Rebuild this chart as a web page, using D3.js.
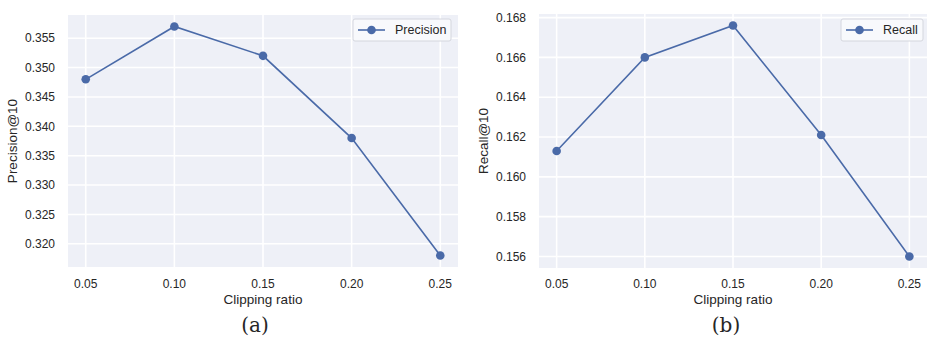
<!DOCTYPE html>
<html>
<head>
<meta charset="utf-8">
<script src="https://cdn.jsdelivr.net/npm/d3@7"></script>
<style>
  body { margin: 0; background: #ffffff; }
  svg { display: block; }
  text { font-family: "Liberation Sans", Arial, sans-serif; fill: #262626; }
</style>
</head>
<body>
<svg id="chart" width="929" height="339"></svg>
<script>
// ---- data ----
const clippingRatios = [0.05, 0.10, 0.15, 0.20, 0.25];
const precisionValues = [0.348, 0.357, 0.352, 0.338, 0.318];
const recallValues = [0.1613, 0.1660, 0.1676, 0.1621, 0.1560];
const xTickLabels = ["0.05", "0.10", "0.15", "0.20", "0.25"];
const precisionTicks = [0.320, 0.325, 0.330, 0.335, 0.340, 0.345, 0.350, 0.355];
const recallTicks = [0.156, 0.158, 0.160, 0.162, 0.164, 0.166, 0.168];

const svg = d3.select("#chart");
const lineColor = "#4a6aa8";
const bgColor = "#eef0f7";

function drawPanel(cfg) {
  const g = svg.append("g");
  const x = d3.scaleLinear().domain([0.04, 0.26]).range([cfg.left, cfg.right]);
  const y = d3.scaleLinear().domain(cfg.yDomain).range([cfg.bottom, cfg.top]);

  g.append("rect")
    .attr("x", cfg.left).attr("y", cfg.top)
    .attr("width", cfg.right - cfg.left).attr("height", cfg.bottom - cfg.top)
    .attr("fill", bgColor);

  // grid
  g.selectAll(".gx").data(clippingRatios).enter().append("line")
    .attr("x1", d => x(d)).attr("x2", d => x(d))
    .attr("y1", cfg.top).attr("y2", cfg.bottom)
    .attr("stroke", "#ffffff").attr("stroke-width", 1.6);
  g.selectAll(".gy").data(cfg.yTicks).enter().append("line")
    .attr("x1", cfg.left).attr("x2", cfg.right)
    .attr("y1", d => y(d)).attr("y2", d => y(d))
    .attr("stroke", "#ffffff").attr("stroke-width", 1.6);

  // x tick labels
  g.selectAll(".xt").data(clippingRatios).enter().append("text")
    .attr("x", d => x(d)).attr("y", 287.5)
    .attr("text-anchor", "middle").attr("font-size", 12)
    .text((d, i) => xTickLabels[i]);

  // y tick labels
  g.selectAll(".yt").data(cfg.yTicks).enter().append("text")
    .attr("x", cfg.left - 13).attr("y", d => y(d)).attr("dy", "0.35em")
    .attr("text-anchor", "end").attr("font-size", 12)
    .text(d => d3.format(".3f")(d));

  // axis labels
  g.append("text")
    .attr("x", (cfg.left + cfg.right) / 2).attr("y", 304)
    .attr("text-anchor", "middle").attr("font-size", 13.5)
    .text("Clipping ratio");
  g.append("text")
    .attr("transform", `translate(${cfg.yLabelX},${(cfg.top + cfg.bottom) / 2}) rotate(-90)`)
    .attr("text-anchor", "middle").attr("font-size", 13.5)
    .text(cfg.yLabel);

  // line + markers
  const pts = clippingRatios.map((c, i) => [c, cfg.values[i]]);
  g.append("path")
    .datum(pts)
    .attr("d", d3.line().x(d => x(d[0])).y(d => y(d[1])))
    .attr("fill", "none").attr("stroke", lineColor).attr("stroke-width", 1.6);
  g.selectAll(".pt").data(pts).enter().append("circle")
    .attr("cx", d => x(d[0])).attr("cy", d => y(d[1]))
    .attr("r", 4.3).attr("fill", lineColor);

  // legend
  const lg = g.append("g");
  lg.append("rect")
    .attr("x", cfg.legendX).attr("y", 19)
    .attr("width", cfg.legendW).attr("height", 22)
    .attr("rx", 2)
    .attr("fill", "#f8f9fc").attr("stroke", "#d4d6de").attr("stroke-width", 1);
  lg.append("line")
    .attr("x1", cfg.legendX + 5).attr("x2", cfg.legendX + 32)
    .attr("y1", 30).attr("y2", 30)
    .attr("stroke", lineColor).attr("stroke-width", 1.6);
  lg.append("circle")
    .attr("cx", cfg.legendX + 18.5).attr("cy", 30).attr("r", 4.3).attr("fill", lineColor);
  lg.append("text")
    .attr("x", cfg.legendX + 42).attr("y", 30).attr("dy", "0.35em")
    .attr("font-size", 12.5)
    .text(cfg.legendLabel);

  // subfigure caption
  g.append("text")
    .attr("x", cfg.captionX).attr("y", 332)
    .attr("text-anchor", "middle").attr("font-size", 20)
    .style("font-family", "'DejaVu Serif', 'Liberation Serif', serif")
    .text(cfg.caption);
}

drawPanel({
  left: 68, right: 458, top: 15, bottom: 267,
  yDomain: [0.31605, 0.35895],
  yTicks: precisionTicks,
  values: precisionValues,
  yLabel: "Precision@10", yLabelX: 17,
  legendLabel: "Precision", legendX: 353, legendW: 98,
  caption: "(a)", captionX: 255
});

drawPanel({
  left: 539, right: 927, top: 14, bottom: 268,
  yDomain: [0.15542, 0.16818],
  yTicks: recallTicks,
  values: recallValues,
  yLabel: "Recall@10", yLabelX: 488,
  legendLabel: "Recall", legendX: 841, legendW: 82,
  caption: "(b)", captionX: 726
});
</script>
</body>
</html>
